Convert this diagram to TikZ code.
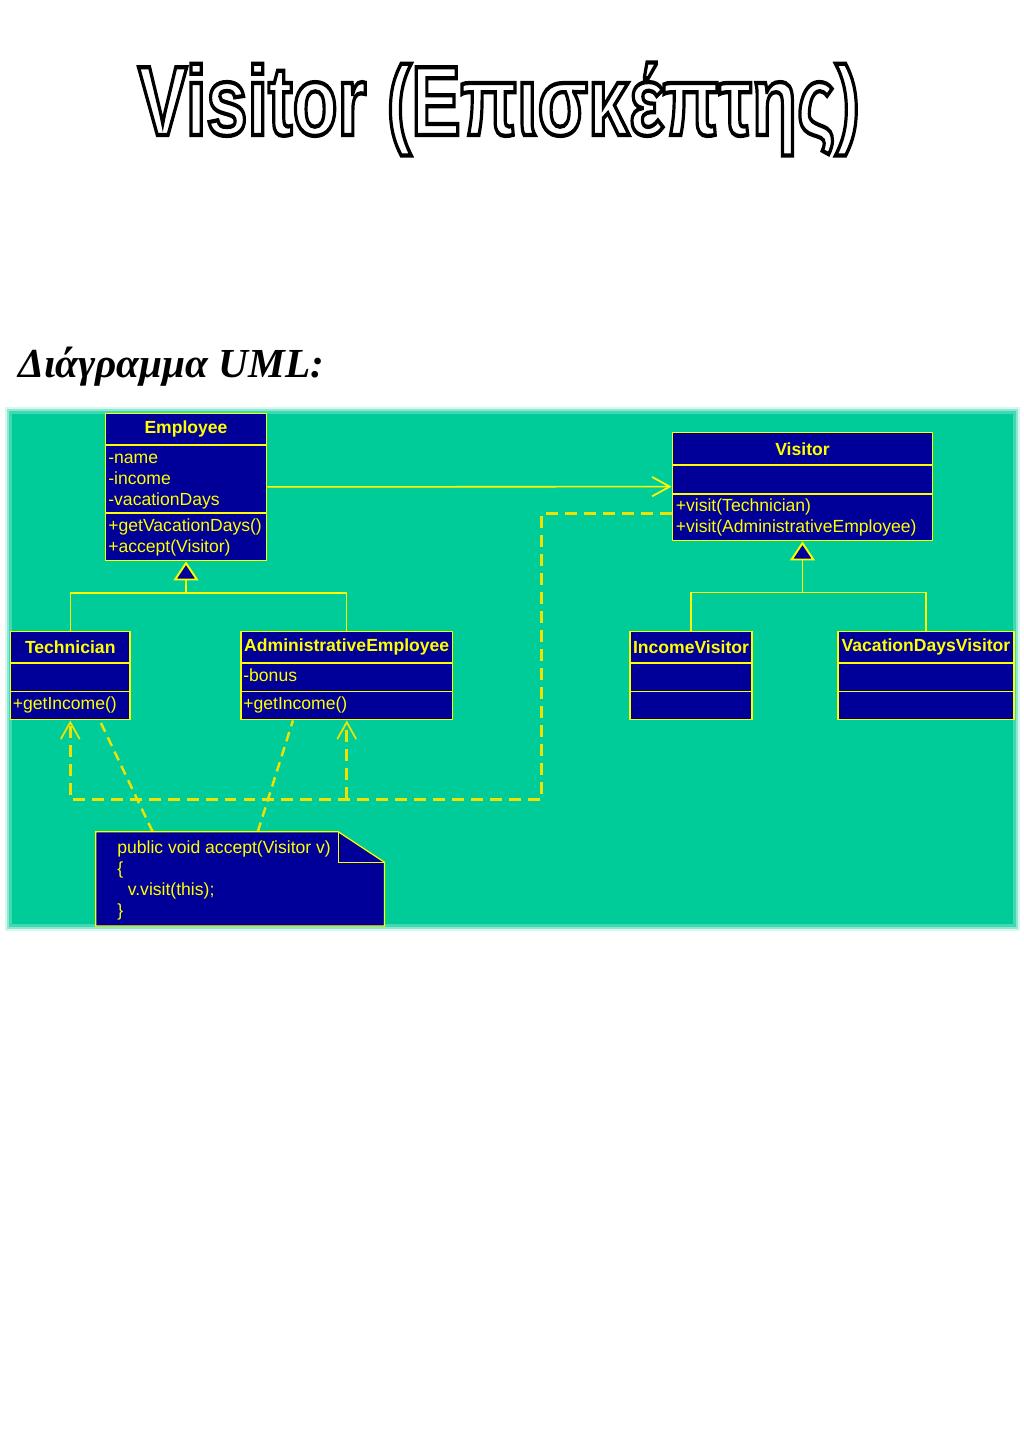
\documentclass[tikz,border=0pt]{standalone}
\usepackage{fontspec}
\setmainfont{Liberation Sans}
\newfontfamily\umlserif{Liberation Serif}
\usepackage{graphicx}
\usetikzlibrary{positioning, arrows.meta, fit, calc}
\definecolor{umlgreen}{HTML}{00CC99}
\definecolor{umlnavy}{HTML}{000099}
\definecolor{umlyellow}{HTML}{FFFF00}
\definecolor{umldash}{HTML}{EEE200}
% hollow letters: stroke only
\newcommand\hollowtext[1]{%
  \special{pdf:literal direct 1 Tr 2.4 w}#1\special{pdf:literal direct 0 Tr}}

\begin{document}
\begin{tikzpicture}[x=0.02cm, y=-0.02cm,
    every node/.style={font=\fontsize{10}{12}\selectfont},
    part/.style={draw=umlyellow, fill=umlnavy, line width=1.1pt, inner sep=0pt},
    whole/.style={inner sep=0pt, outer sep=0pt},
    cname/.style={text=umlyellow, font=\fontsize{10}{12}\selectfont\bfseries, inner sep=0pt},
    member/.style={text=umlyellow, anchor=base west, inner sep=0pt},
    gen/.style={draw=umlyellow, line width=0.8pt},
    genhead/.style={gen, -{Triangle[length=10.8pt, width=14.2pt, fill=umlnavy, line width=1.1pt]}},
    assoc/.style={draw=umlyellow, line width=0.9pt, -{Straight Barb[length=10pt, width=11pt, line width=1pt]}},
    dep/.style={draw=umldash, line width=1.6pt, dash pattern=on 6.8pt off 4pt},
    dephead/.style={dep, -{Straight Barb[length=9.6pt, width=10.8pt, line width=1pt]}},
    notelink/.style={draw=umldash, line width=1.4pt, dash pattern=on 5.5pt off 3.5pt},
    notebox/.style={draw=umlyellow, fill=umlnavy, line width=0.7pt},
  ]
  \fill[white] (0,0) rectangle (1024,1448);
  \useasboundingbox (0,0) rectangle (1024,1448);

  % headings
  \node[font=\fontsize{56}{60}\selectfont\bfseries, inner sep=0pt, anchor=base]
    (title) at (499,135)
    {\scalebox{0.75}[1]{\color{black}\hollowtext{Visitor (Επισκέπτης)}}};
  \node[font=\fontsize{23.5}{26}\selectfont\umlserif\bfseries\itshape,
        inner sep=0pt, anchor=base west] (subtitle) at (18,377)
    {Διάγραμμα UML:};

  % canvas with soft edge
  \fill[umlgreen!15] (5,407) rectangle (1020,931);
  \fill[umlgreen!45] (7,409) rectangle (1018,929);
  \fill[umlgreen!75] (9,411) rectangle (1016,927);
  \fill[umlgreen] (12,414) rectangle (1013,924);

  % Employee
  \node[part, fit={(105.5,413.5) (266.5,445)}] (emp-n) {};
  \node[part, fit={(105.5,445) (266.5,513)}] (emp-a) {};
  \node[part, fit={(105.5,513) (266.5,560.5)}] (emp-m) {};
  \node[whole, fit=(emp-n)(emp-m)] (emp) {};
  \node[cname] (emp-t) at (emp-n) {Employee};
  \node[member] (emp-a1) at (108,463) {-name};
  \node[member] (emp-a2) at (108,484) {-income};
  \node[member] (emp-a3) at (108,505) {-vacationDays};
  \node[member] (emp-m1) at (108,531) {+getVacationDays()};
  \node[member] (emp-m2) at (108,552) {+accept(Visitor)};

  % Technician
  \node[part, fit={(10.5,631.5) (130,663)}] (tech-n) {};
  \node[part, fit={(10.5,663) (130,691.5)}] (tech-a) {};
  \node[part, fit={(10.5,691.5) (130,719.5)}] (tech-m) {};
  \node[whole, fit=(tech-n)(tech-m)] (tech) {};
  \node[cname] (tech-t) at (tech-n) {Technician};
  \node[member] (tech-m1) at (12.5,709) {+getIncome()};

  % AdministrativeEmployee
  \node[part, fit={(241,631.5) (452.5,663)}] (admin-n) {};
  \node[part, fit={(241,663) (452.5,691.5)}] (admin-a) {};
  \node[part, fit={(241,691.5) (452.5,719.5)}] (admin-m) {};
  \node[whole, fit=(admin-n)(admin-m)] (admin) {};
  \node[cname] (admin-t) at (admin-n) {AdministrativeEmployee};
  \node[member] (admin-a1) at (243,681) {-bonus};
  \node[member] (admin-m1) at (243,709) {+getIncome()};

  % Visitor
  \node[part, fit={(672.5,432.5) (932.5,465)}] (vis-n) {};
  \node[part, fit={(672.5,465) (932.5,494)}] (vis-a) {};
  \node[part, fit={(672.5,494) (932.5,540.5)}] (vis-m) {};
  \node[whole, fit=(vis-n)(vis-m)] (vis) {};
  \node[cname] (vis-t) at (vis-n) {Visitor};
  \node[member] (vis-m1) at (675.5,511) {+visit(Technician)};
  \node[member] (vis-m2) at (675.5,532) {+visit(AdministrativeEmployee)};

  % IncomeVisitor
  \node[part, fit={(630,631.5) (752,663)}] (incv-n) {};
  \node[part, fit={(630,663) (752,691.5)}] (incv-a) {};
  \node[part, fit={(630,691.5) (752,719.5)}] (incv-m) {};
  \node[whole, fit=(incv-n)(incv-m)] (incv) {};
  \node[cname] (incv-t) at (incv-n) {IncomeVisitor};

  % VacationDaysVisitor
  \node[part, fit={(838,631.5) (1014,663)}] (vacv-n) {};
  \node[part, fit={(838,663) (1014,691.5)}] (vacv-a) {};
  \node[part, fit={(838,691.5) (1014,719.5)}] (vacv-m) {};
  \node[whole, fit=(vacv-n)(vacv-m)] (vacv) {};
  \node[cname] (vacv-t) at (vacv-n) {VacationDaysVisitor};

  % inheritance
  \coordinate (emp-join) at (emp.south |- 0,593);
  \draw[gen] (tech.north) |- (emp-join) -| (admin.north);
  \draw[genhead] (emp-join) -- (emp.south);
  \coordinate (vis-join) at (vis.south |- 0,592.5);
  \draw[gen] (incv.north) |- (vis-join) -| (vacv.north);
  \draw[genhead] (vis-join) -- (vis.south);

  % association
  \draw[assoc] (emp) -- (vis);

  % dependencies on Visitor
  \coordinate (vis-dep) at (vis.west |- 0,513.3);
  \coordinate (dep-bus) at (541.7,799.3);
  \draw[dephead] (vis-dep) -| (dep-bus) -| (tech.south);
  \draw[dephead] (admin.south |- dep-bus) -- (admin.south);

  % note
  \node[whole, fit={(95.7,831.7) (384.6,926)}] (note) {};
  \coordinate (note-fold) at (338.2,831.7);
  \coordinate (note-corner) at (384.6,862.3);
  \draw[notelink] ($(note.north west)!0.197!(note.north east)$)
    -- ($(tech.south west)!0.743!(tech.south east)$);
  \draw[notelink] ($(note.north west)!0.561!(note.north east)$)
    -- ($(admin.south west)!0.248!(admin.south east)$);
  \draw[notebox] (note.north west) -- (note-fold) -- (note-corner)
    -- (note.south east) -- (note.south west) -- cycle;
  \draw[notebox, fill=none] (note-fold) |- (note-corner);
  \node[member] (note-l1) at (117,853) {public void accept(Visitor v)};
  \node[member] (note-l2) at (117,874) {\{};
  \node[member] (note-l3) at (127.5,895) {v.visit(this);};
  \node[member] (note-l4) at (117,916) {\}};
\end{tikzpicture}
\end{document}
